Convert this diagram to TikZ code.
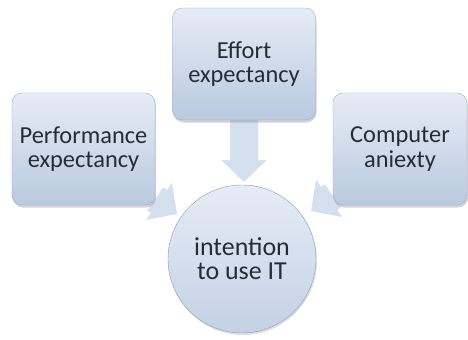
\documentclass[tikz,border=0pt]{standalone}
\usepackage{fontspec}
\setmainfont{Carlito}
\usepackage{tikz}
\usetikzlibrary{positioning, arrows.meta, shadows, backgrounds}
\definecolor{boxtop}{HTML}{E6ECF5}
\definecolor{boxbot}{HTML}{B9C9E0}
\definecolor{boxline}{HTML}{9DAEC6}
\definecolor{txt}{HTML}{262C36}
\definecolor{arr}{HTML}{D5E0EF}
\tikzstyle{factor}=[draw=boxline, rounded corners=10bp, top color=boxtop, bottom color=boxbot,
  minimum width=143bp, minimum height=112bp, align=center, text=txt,
  font=\fontsize{24.5}{24.5}\selectfont,
  drop shadow={opacity=0.35, shadow xshift=1bp, shadow yshift=-2.5bp}]
\tikzstyle{goal}=[draw=boxline!90!black, circle, top color=boxtop, bottom color=boxbot!85,
  minimum size=148bp, align=center, text=txt, font=\fontsize{26}{24}\selectfont,
  drop shadow={opacity=0.25, shadow xshift=1bp, shadow yshift=-2bp}]
\tikzstyle{fat}=[draw=arr, line width=28bp, -{Triangle[length=22bp,width=44bp]}]

\begin{document}
\begin{tikzpicture}[x=1bp,y=1bp]
      \useasboundingbox (0,0) rectangle (468,339);
      \node [goal] (intent) at (242,80) {intention\\to use IT};
      \node [factor] (effort) [above of=intent, node distance=195bp, xshift=2bp] {Effort\\expectancy};
      \node [factor] (perf) [left of=intent, node distance=158.5bp, yshift=110bp] {Performance\\expectancy};
      \node [factor, minimum width=134bp] (anx) [right of=intent, node distance=158bp, yshift=110bp] {Computer\\aniexty};

      % arrow heads end short of the circle
      \coordinate (toptip) at (244,157);
      \coordinate (lefttip) at (177,125);
      \coordinate (righttip) at (311,128);

      \begin{scope}[on background layer]
        \draw [fat] (effort) -- (toptip);
        \draw [fat] (perf) -- (lefttip);
        \draw [fat] (anx) -- (righttip);
      \end{scope}
\end{tikzpicture}
\end{document}
